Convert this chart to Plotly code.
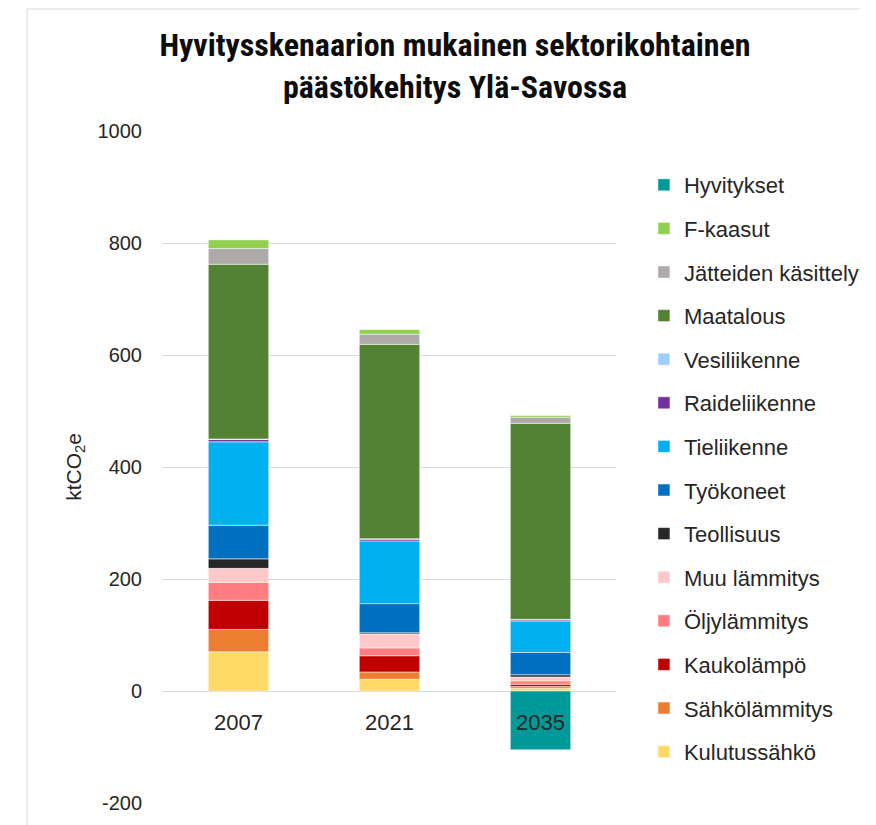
import plotly.graph_objects as go

YEARS = ["2007", "2021", "2035"]

# sectors, bottom of the stack first
SECTORS = [
    "Kulutussähkö", "Sähkölämmitys", "Kaukolämpö", "Öljylämmitys", "Muu lämmitys",
    "Teollisuus", "Työkoneet", "Tieliikenne", "Raideliikenne", "Vesiliikenne",
    "Maatalous", "Jätteiden käsittely", "F-kaasut", "Hyvitykset",
]
COLORS = [
    "#FFD966", "#ED7D31", "#C00000", "#FF7C80", "#FFC9C9",
    "#262626", "#0070C0", "#00B0F0", "#7030A0", "#9DCFFF",
    "#548235", "#AEAAAA", "#92D050", "#009999",
]

kulutussahko = [70, 21, 5]
sahkolammitys = [40, 13, 3]
kaukolampo = [52, 29, 4]
oljylammitys = [32, 14, 6]
muu_lammitys = [25, 25, 7]
teollisuus = [17, 2, 4]
tyokoneet = [60, 52, 40]
tieliikenne = [149, 112, 56]
raideliikenne = [4, 3, 2]
vesiliikenne = [1, 1, 1]
maatalous = [312, 347, 350]
jatteet = [28, 18, 11]
f_kaasut = [16, 9, 3]
hyvitykset = [0, 0, -105]

VALUES = [
    kulutussahko, sahkolammitys, kaukolampo, oljylammitys, muu_lammitys,
    teollisuus, tyokoneet, tieliikenne, raideliikenne, vesiliikenne,
    maatalous, jatteet, f_kaasut, hyvitykset,
]

FONT = "Liberation Sans, Arial, sans-serif"
TITLE_FONT = "Liberation Sans Narrow, Roboto Condensed, Arial Narrow, sans-serif"

# the page body adds an 8px margin, so the figure is drawn 8px smaller
OFF = 8
W, H = 876 - OFF, 825 - OFF
L, R, T, B = 163 - OFF, 633 - OFF, 131 - OFF, 803 - OFF

fig = go.Figure()
n = len(SECTORS)
for i, (name, vals, col) in enumerate(zip(SECTORS, VALUES, COLORS)):
    fig.add_trace(
        go.Bar(
            x=YEARS,
            y=vals,
            name=name,
            legendgroup=name,
            legendrank=n - i,
            marker_color=col,
            marker_line=dict(color="white", width=0.5),
        )
    )

# category labels sit next to the zero line, like in the original
for i, yr in enumerate(YEARS):
    fig.add_annotation(
        x=i, y=0, text=yr, showarrow=False, yanchor="middle", yshift=-31,
        font=dict(family=FONT, size=22, color="#262626"),
    )

# partial chart frame (left and top edges)
fx = (22 - OFF - L) / (R - L)
fy = (B - 1) / (B - T)
fig.add_shape(
    type="line", xref="paper", yref="paper",
    x0=fx, x1=(W + 10 - L) / (R - L), y0=fy, y1=fy,
    line=dict(color="#D9D9D9", width=1),
)
fig.add_shape(
    type="line", xref="paper", yref="paper",
    x0=fx, x1=fx, y0=fy, y1=(B - H - 10) / (B - T),
    line=dict(color="#D9D9D9", width=1),
)

fig.update_layout(
    width=W,
    height=H,
    margin=dict(l=L, r=W - R, t=T, b=H - B),
    paper_bgcolor="white",
    plot_bgcolor="white",
    barmode="relative",
    bargap=0.6,
    title=dict(
        text="Hyvitysskenaarion mukainen sektorikohtainen<br>päästökehitys Ylä-Savossa",
        x=(455 - OFF) / W, xanchor="center",
        y=1 - 48 / H, yanchor="middle",
        font=dict(family=TITLE_FONT, size=32, color="#0D0D0D", weight="bold"),
    ),
    xaxis=dict(type="category", range=[-0.5, 2.5], showticklabels=False,
               showgrid=False, showline=False, zeroline=False),
    yaxis=dict(
        range=[-200, 1000],
        tickvals=[-200, 0, 200, 400, 600, 800, 1000],
        ticktext=["-200", "0", "200", "400", "600", "800", "1000"],
        showgrid=True,
        gridcolor="#D9D9D9",
        gridwidth=1,
        zeroline=False,
        showline=False,
        ticklabelstandoff=20,
        tickfont=dict(family=FONT, size=20, color="#262626"),
        title=dict(
            text="ktCO<sub>2</sub>e",
            font=dict(family=FONT, size=21, color="#262626"),
            standoff=10,
        ),
    ),
    legend=dict(
        x=(662 - OFF - L) / (R - L),
        xanchor="left",
        y=(B - (164 - OFF)) / (B - T),
        yanchor="top",
        traceorder="grouped",
        tracegroupgap=12,
        font=dict(family=FONT, size=22, color="#262626"),
        bgcolor="rgba(0,0,0,0)",
    ),
)

fig.write_html("out.html")
